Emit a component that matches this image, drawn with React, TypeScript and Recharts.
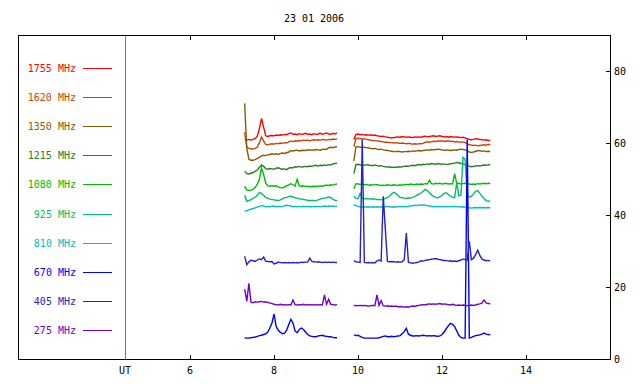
import React from 'react';
import { LineChart, Line, XAxis, YAxis } from 'recharts';

const chartTitle = '23 01 2006';

// two recording runs, 3 min cadence (hours UT)
const timesA = Array.from({ length: 45 }, (_, i) => Math.round((7.3 + i * 0.05) * 100) / 100);
const timesB = Array.from({ length: 66 }, (_, i) => Math.round((9.9 + i * 0.05) * 100) / 100);
const gapTime = 9.7;

const xMin = 4.45;
const xMax = 16;
const xTicks = [xMin, 6, 8, 10, 12, 14];
const yTicks = [0, 20, 40, 60, 80];

// flux traces, run A (07:18 - 09:30)
const f1755A = [61.0,60.8,61.0,60.8,61.0,61.2,61.9,64.0,66.8,64.5,62.0,61.8,62.0,62.1,62.0,62.2,62.1,62.3,62.2,62.4,62.3,62.6,62.8,62.4,62.5,62.3,62.6,62.4,62.5,62.7,62.4,62.5,62.3,62.6,62.4,62.5,62.7,62.4,62.6,62.8,62.5,62.4,62.7,62.5,62.8];
const f1620A = [63.0,58.8,58.5,58.4,58.3,58.5,58.8,60.1,61.7,60.6,59.6,59.5,59.7,59.8,59.7,59.9,59.8,60.0,59.9,60.1,60.0,60.3,60.5,60.4,60.6,60.5,60.7,60.6,60.8,60.7,60.8,60.6,60.8,60.9,60.8,60.9,60.8,61.0,60.9,60.8,61.0,60.9,61.1,61.0,61.1];
const f1350A = [71.0,58.5,55.5,55.2,55.2,55.4,55.7,56.0,56.4,56.6,56.5,56.7,56.8,57.0,56.9,57.0,56.8,57.1,57.2,57.1,57.3,57.5,57.9,57.8,57.9,58.0,57.8,57.9,58.0,57.9,58.1,58.0,58.1,58.0,58.2,58.1,58.0,58.2,58.3,58.2,58.7,58.8,58.7,58.9,59.0];
const f1215A = [52.2,51.5,51.4,51.6,51.8,52.1,52.5,53.2,53.9,53.5,52.9,52.7,52.9,52.8,52.7,53.0,53.1,52.9,52.7,52.8,52.6,53.0,53.2,53.1,53.4,53.3,53.5,53.3,53.4,53.5,53.4,53.6,53.5,53.7,53.8,53.6,53.8,53.7,53.9,53.8,54.0,53.9,54.2,54.3,54.4];
const f1080A = [48.0,47.0,46.8,46.9,47.1,47.7,48.5,49.9,53.0,51.3,48.9,48.1,48.0,48.2,48.0,48.1,47.8,47.6,47.5,47.8,48.1,48.4,48.7,48.4,48.0,49.9,48.1,48.0,48.1,47.9,48.0,47.8,47.9,48.0,47.9,48.0,48.1,48.0,48.2,48.3,48.2,48.4,48.3,48.5,48.6];
const f925A = [45.5,43.8,44.0,44.3,44.6,45.0,45.4,46.3,46.0,45.5,44.9,44.6,44.4,44.3,44.2,44.1,44.0,44.2,44.5,44.8,44.9,45.1,45.2,45.0,44.8,44.7,44.5,44.4,44.3,44.2,44.1,44.0,44.1,44.0,44.0,44.2,44.4,44.6,44.7,44.8,45.0,44.8,44.4,44.1,44.0];
const f810A = [41.0,41.2,41.4,41.6,41.8,42.0,42.2,42.4,42.6,42.5,42.3,42.4,42.3,42.4,42.5,42.3,42.4,42.3,42.4,42.6,42.7,42.6,42.5,42.3,42.4,42.3,42.4,42.3,42.4,42.3,42.4,42.3,42.3,42.4,42.3,42.4,42.3,42.4,42.5,42.4,42.5,42.4,42.5,42.4,42.4];
const f670A = [5.9,5.8,5.8,5.9,6.0,6.1,6.3,6.5,6.6,6.8,7.0,7.5,8.6,10.0,12.5,9.0,8.0,7.4,7.0,7.2,8.0,9.6,11.0,10.0,7.8,7.3,8.2,8.6,8.2,7.5,6.8,6.4,6.3,6.2,6.2,6.4,6.5,6.6,6.4,6.3,6.2,6.2,6.0,5.9,5.9];
const f405A = [28.5,26.2,27.0,27.4,27.3,27.1,27.5,27.8,27.6,28.3,27.2,27.1,27.0,27.1,26.4,26.6,26.9,26.8,26.7,26.8,26.7,26.8,26.7,26.8,26.7,26.8,26.7,26.9,26.8,26.9,26.9,28.0,27.1,27.0,26.9,27.0,26.9,26.8,26.9,26.8,26.9,26.8,26.9,26.8,26.8];
const f275A = [19.4,16.0,21.0,15.8,15.6,15.9,15.8,15.9,16.0,15.8,15.9,15.7,15.6,15.4,15.2,15.1,15.0,15.2,15.0,15.1,15.0,15.1,15.0,16.4,15.1,15.0,15.1,15.0,15.2,15.0,15.1,15.0,15.1,15.0,15.1,15.0,15.1,15.0,17.8,15.2,16.6,15.2,15.1,15.0,15.1];

// flux traces, run B (09:54 - 13:09)
const f1755B = [61.0,62.4,62.5,62.3,62.4,62.2,62.3,62.2,62.3,62.1,62.2,62.0,61.9,61.8,61.9,61.7,61.6,61.5,61.4,61.5,61.6,61.7,61.6,61.8,61.7,61.6,61.7,61.6,61.5,61.7,61.6,61.7,61.6,61.8,61.9,61.7,61.8,61.9,62.0,61.8,61.9,62.0,61.8,61.7,61.8,61.6,61.8,61.7,61.6,61.7,61.6,61.5,61.6,61.4,61.2,61.0,60.9,61.0,61.2,61.1,61.0,60.9,60.8,60.9,60.7,60.8];
const f1620B = [59.0,61.2,61.3,61.2,61.1,61.2,61.0,60.9,60.8,60.7,60.6,60.6,60.5,60.4,60.3,60.2,60.2,60.1,60.1,60.0,60.1,60.0,59.9,60.0,59.9,59.8,59.9,59.8,59.7,59.8,59.7,59.8,59.8,59.9,60.2,60.3,60.2,60.4,60.5,60.4,60.6,60.5,60.6,60.4,60.5,60.6,60.4,60.5,60.3,60.4,60.3,60.2,60.3,60.1,59.8,59.5,59.4,59.3,59.4,59.2,59.3,59.4,59.5,59.4,59.6,59.5];
const f1350B = [55.0,58.9,59.0,58.8,58.9,58.8,58.7,58.6,58.5,58.4,58.5,58.3,58.2,58.3,58.1,58.0,57.9,57.8,57.7,57.6,57.6,57.7,57.6,57.5,57.6,57.6,57.7,57.6,57.8,57.7,57.8,57.9,57.8,57.9,58.0,58.1,58.0,58.2,58.1,58.2,58.3,58.2,58.1,58.0,58.1,58.0,57.9,58.0,58.1,58.0,58.2,58.3,58.2,58.1,57.8,57.5,57.4,57.5,57.7,57.9,57.8,57.7,57.8,57.6,57.7,57.6];
const f1215B = [51.5,54.0,54.1,53.9,54.0,53.8,54.0,53.9,53.8,53.7,53.9,53.7,53.6,53.7,53.5,53.4,53.3,53.4,53.2,53.3,53.2,53.4,53.3,53.4,53.5,53.6,53.5,53.7,53.8,53.7,53.9,54.0,53.9,54.1,54.0,54.2,54.1,54.3,54.2,54.1,54.3,54.2,54.1,54.2,54.0,54.1,54.2,54.3,54.4,54.6,54.5,54.3,54.2,54.0,53.8,53.5,53.4,53.5,53.6,53.7,53.6,53.8,53.9,53.8,54.0,53.9];
const f1080B = [47.3,48.7,48.6,48.5,48.6,48.4,48.5,48.3,48.4,48.3,48.5,48.4,48.3,48.2,48.3,48.2,48.4,48.3,48.2,48.4,48.3,48.2,48.4,48.3,48.4,48.5,48.4,48.6,48.5,48.4,48.6,48.5,48.6,48.5,48.7,48.6,49.6,48.7,48.6,48.8,48.7,48.8,48.6,48.7,48.8,48.6,48.7,48.6,51.5,48.7,48.8,48.6,48.7,48.8,48.7,48.6,48.5,48.6,48.5,48.7,48.6,48.7,48.8,48.7,48.8,48.7];
const f925B = [45.2,44.6,44.5,46.0,44.6,44.5,44.6,44.5,44.4,44.5,44.4,44.3,44.3,44.2,44.4,44.6,44.8,45.2,45.8,46.3,46.0,45.4,44.9,44.8,44.7,44.6,44.8,44.7,44.9,45.1,45.5,45.8,46.1,46.6,47.1,46.8,46.2,45.6,45.2,44.9,44.8,45.0,45.5,46.0,46.2,45.7,45.2,44.9,44.8,49.0,45.3,45.5,56.0,55.5,45.4,45.0,45.2,45.8,46.6,46.8,46.0,45.2,44.6,44.0,43.8,44.0];
const f810B = [42.9,42.6,42.4,42.3,42.2,42.3,42.2,42.3,42.2,42.3,42.2,42.3,42.2,42.3,42.2,42.3,42.4,42.3,42.2,42.3,42.2,42.3,42.4,42.3,42.4,42.3,42.4,42.5,42.6,42.7,42.6,42.8,42.7,42.8,42.7,42.6,42.5,42.4,42.3,42.4,42.3,42.4,42.3,42.4,42.3,42.4,42.3,42.4,42.3,42.4,42.3,42.2,42.3,42.2,42.1,42.0,41.9,42.0,42.1,42.0,42.1,42.0,42.1,42.0,42.1,42.0];
const f670B = [6.7,6.5,6.6,6.3,6.0,5.8,5.8,5.8,5.8,5.8,5.8,5.8,5.9,6.1,6.3,6.4,6.2,6.2,6.3,6.2,6.3,6.4,6.5,7.0,7.6,8.5,6.9,6.6,6.4,6.4,6.5,6.4,6.5,6.6,6.5,6.4,6.5,6.4,6.5,6.4,6.3,6.4,6.8,7.5,8.4,9.2,9.9,9.6,9.0,7.8,6.6,6.0,5.8,5.8,61.0,5.8,6.0,6.3,6.5,6.6,6.7,6.9,7.2,6.9,6.8,6.7];
const f405B = [27.3,27.0,26.9,26.8,61.0,26.8,26.7,26.8,26.7,26.8,26.7,27.2,27.5,27.2,45.2,36.0,27.1,27.0,27.1,27.0,26.9,27.0,26.9,27.0,27.6,35.0,26.8,26.7,26.6,26.7,26.8,27.0,27.3,27.2,27.4,27.5,27.6,27.7,27.8,27.9,27.7,27.6,27.5,27.3,27.4,27.2,27.3,27.1,27.2,27.1,27.3,27.5,27.8,27.6,27.5,32.7,27.6,28.0,29.0,30.2,28.8,27.8,27.5,27.3,27.4,27.2];
const f275B = [14.8,14.9,14.8,14.9,14.8,14.9,14.8,14.7,14.8,14.9,14.8,17.8,14.9,16.2,14.8,14.7,14.8,14.6,14.7,14.6,14.7,14.5,14.6,14.5,14.4,14.5,14.4,14.6,14.7,14.6,14.8,14.9,15.0,15.1,15.0,15.2,15.3,15.2,15.3,15.2,15.3,15.4,15.2,15.3,15.2,15.1,15.0,15.2,15.0,14.9,15.0,14.9,15.0,14.9,14.8,14.9,15.0,14.9,15.0,15.2,15.3,15.5,16.4,15.6,15.4,15.3];

const series = [
  { mhz: '1755', a: f1755A, b: f1755B },
  { mhz: '1620', a: f1620A, b: f1620B },
  { mhz: '1350', a: f1350A, b: f1350B },
  { mhz: '1215', a: f1215A, b: f1215B },
  { mhz: '1080', a: f1080A, b: f1080B },
  { mhz: '925', a: f925A, b: f925B },
  { mhz: '810', a: f810A, b: f810B },
  { mhz: '670', a: f670A, b: f670B },
  { mhz: '405', a: f405A, b: f405B },
  { mhz: '275', a: f275A, b: f275B },
];

const colors: Record<string, string> = {
  '1755': '#ff0000',
  '1620': '#c84400',
  '1350': '#8c5a00',
  '1215': '#238023',
  '1080': '#00bb00',
  '925': '#00bf6c',
  '810': '#00c0c0',
  '670': '#0000ff',
  '405': '#2424c4',
  '275': '#7400c4',
};

const mono = '"DejaVu Sans Mono", monospace';

const rows: any[] = [];
timesA.forEach((t, i) => {
  const r: any = { t };
  series.forEach((s) => (r['f' + s.mhz] = s.a[i]));
  rows.push(r);
});
{
  const gap: any = { t: gapTime };
  series.forEach((s) => (gap['f' + s.mhz] = null));
  rows.push(gap);
}
timesB.forEach((t, i) => {
  const r: any = { t };
  series.forEach((s) => (r['f' + s.mhz] = s.b[i]));
  rows.push(r);
});

const TopTick = (props: any) => {
  const { x, y } = props;
  return <line x1={x} x2={x} y1={y} y2={y + 5} stroke="#000" shapeRendering="crispEdges" />;
};

const BottomTick = (props: any) => {
  const { x, y, payload } = props;
  const isUT = payload.value === xMin;
  return (
    <g>
      {!isUT && <line x1={x} x2={x} y1={y - 4} y2={y} stroke="#000" shapeRendering="crispEdges" />}
      <text x={x} y={y + 15} textAnchor="middle" fontSize={10} fontFamily={mono} fill="#000">
        {isUT ? 'UT' : payload.value}
      </text>
    </g>
  );
};

const RightTick = (props: any) => {
  const { x, y, payload } = props;
  return (
    <g>
      {payload.value !== 0 && <line x1={x - 4} x2={x} y1={y} y2={y} stroke="#000" shapeRendering="crispEdges" />}
      <text x={x + 4} y={y + 4} fontSize={10} fontFamily={mono} fill="#000">
        {payload.value}
      </text>
    </g>
  );
};

export default function App() {
  return (
    <div style={{ position: 'absolute', left: 0, top: 0, width: 640, height: 384, background: '#fff' }}>
      {/* frame, title and legend */}
      <svg width={640} height={384} style={{ position: 'absolute', left: 0, top: 0 }}>
        <text x={314} y={22} textAnchor="middle" fontSize={10} fontFamily={mono} fill="#000">
          {chartTitle}
        </text>
        <line x1={125.5} x2={125.5} y1={35} y2={359} stroke="#777" />
        <line x1={18.5} x2={18.5} y1={35} y2={360} stroke="#000" />
        <line x1={610.5} x2={610.5} y1={35} y2={360} stroke="#000" />
        <line x1={18} x2={611} y1={35.5} y2={35.5} stroke="#000" />
        <line x1={18} x2={611} y1={359.5} y2={359.5} stroke="#000" />
        {series.map((s, i) => {
          const ly = Math.round(67.5 + i * 29.2);
          return (
            <g key={s.mhz}>
              <text x={76} y={ly + 4} textAnchor="end" fontSize={10} fontFamily={mono} fill={colors[s.mhz]}>
                {s.mhz} MHz
              </text>
              <line x1={83} x2={112} y1={ly + 0.5} y2={ly + 0.5} stroke={colors[s.mhz]} />
            </g>
          );
        })}
      </svg>
      <div style={{ position: 'absolute', left: 0, top: 0 }}>
        <LineChart width={640} height={384} data={rows} margin={{ top: 5, right: 0, bottom: 0, left: 125 }}>
          <XAxis
            xAxisId="top"
            orientation="top"
            dataKey="t"
            type="number"
            domain={[xMin, xMax]}
            ticks={[6, 8, 10, 12, 14]}
            height={30}
            axisLine={false}
            tickLine={false}
            tickSize={0}
            tickMargin={0}
            tick={TopTick}
            allowDataOverflow
          />
          <XAxis
            xAxisId="bottom"
            dataKey="t"
            type="number"
            domain={[xMin, xMax]}
            ticks={xTicks}
            height={25}
            axisLine={false}
            tickLine={false}
            tickSize={0}
            tickMargin={0}
            tick={BottomTick}
            allowDataOverflow
          />
          <YAxis
            yAxisId="flux"
            orientation="right"
            type="number"
            domain={[0, 90]}
            ticks={yTicks}
            width={30}
            axisLine={false}
            tickLine={false}
            tickSize={0}
            tickMargin={0}
            tick={RightTick}
            allowDataOverflow
          />
          {series.map((s) => (
            <Line
              key={s.mhz}
              xAxisId="bottom"
              yAxisId="flux"
              type="linear"
              dataKey={'f' + s.mhz}
              stroke={colors[s.mhz]}
              strokeWidth={1.4}
              dot={false}
              activeDot={false}
              isAnimationActive={false}
            />
          ))}
        </LineChart>
      </div>
    </div>
  );
}
